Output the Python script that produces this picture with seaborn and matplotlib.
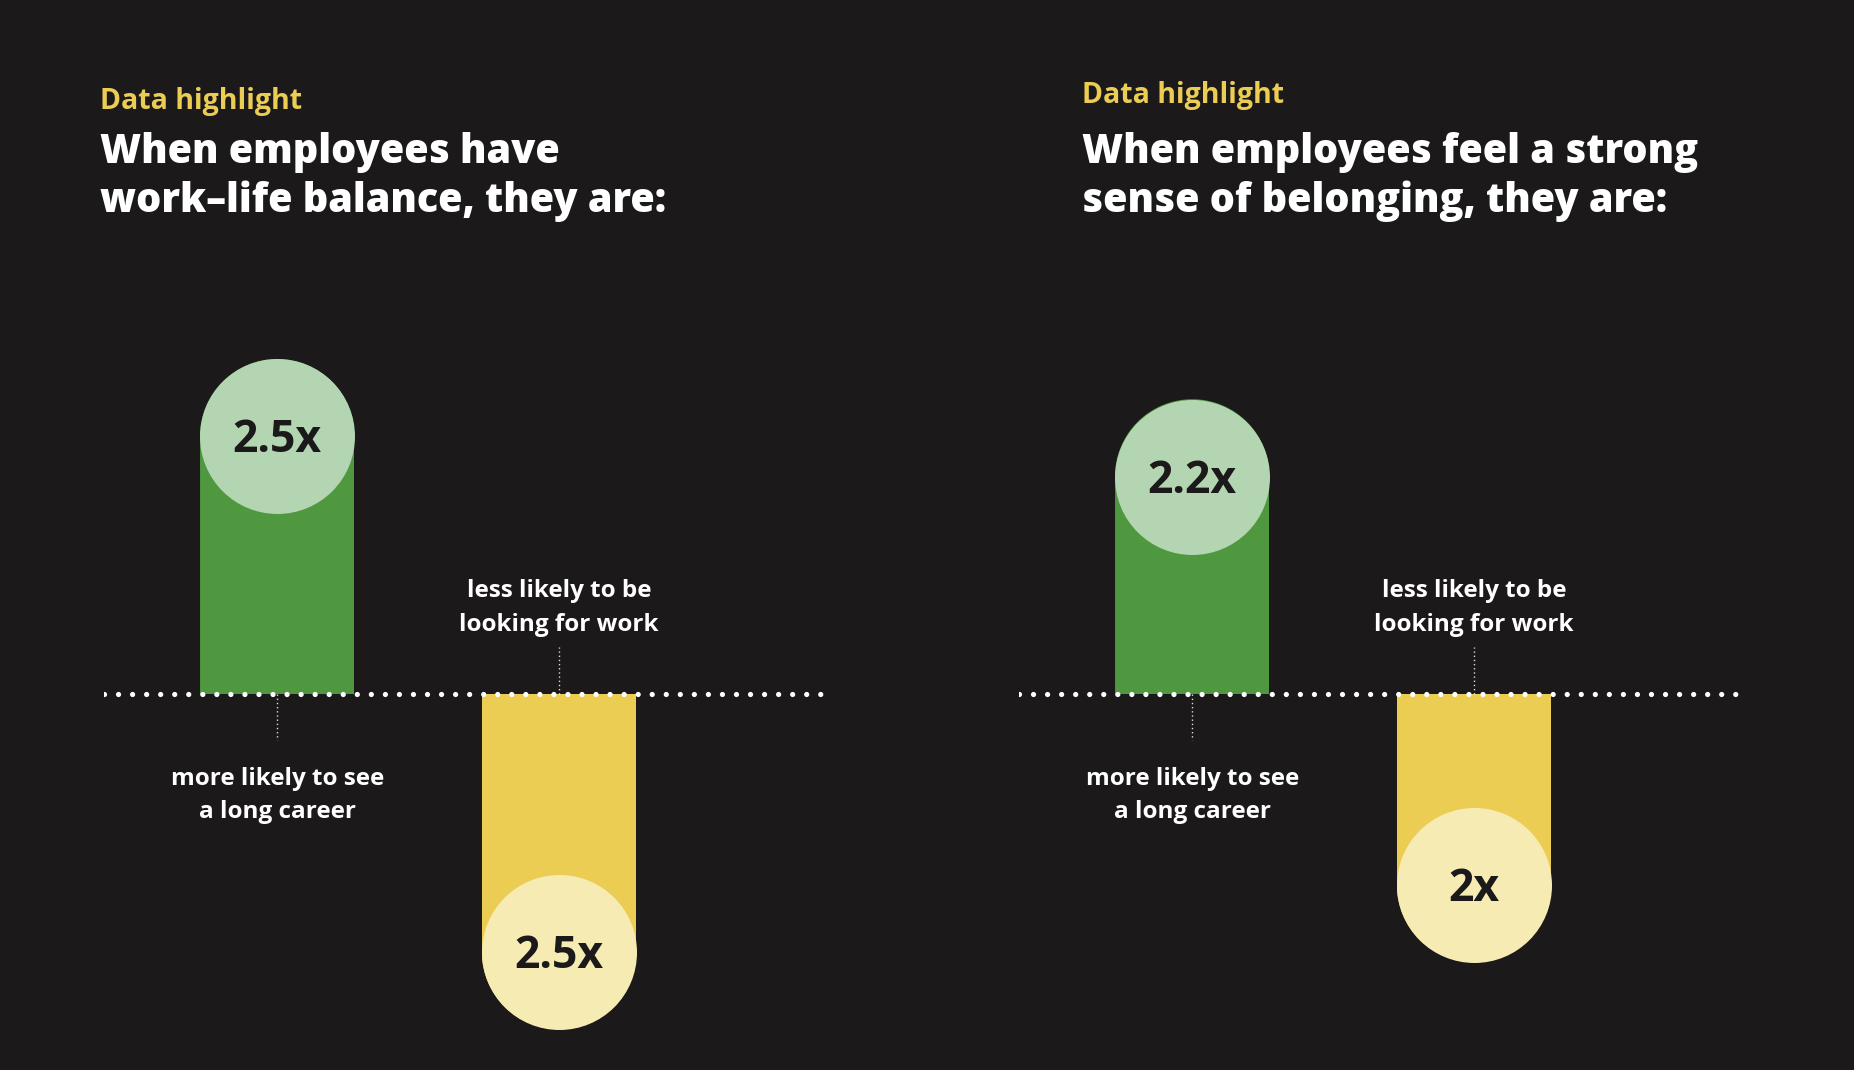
import numpy as np
import pandas as pd
import matplotlib
matplotlib.use("Agg")
import matplotlib.pyplot as plt
import seaborn as sns
from matplotlib.path import Path
from matplotlib.transforms import ScaledTranslation, IdentityTransform

# ---------------- data ----------------
kickers = ["Data highlight", "Data highlight"]
titles_left = ["When employees have", "work\u2013life balance, they are:"]
titles_right = ["When employees feel a strong", "sense of belonging, they are:"]
categories = ["more likely to see\na long career", "less likely to be\nlooking for work"]
left_values = [2.5, -2.5]
right_values = [2.2, -2.0]
left_labels = ["2.5x", "2.5x"]
right_labels = ["2.2x", "2x"]

# ---------------- style ----------------
DPI = 100
W, H = 1854, 1070
BG = "#1b191a"
BAR_COLORS = ["#4f983f", "#ebcd53"]
CAP_COLORS = ["#b3d5b1", "#f7ebb4"]
KICKER = "#ebcd53"

sns.set_theme(style="white")
plt.rcParams["font.family"] = ["Open Sans", "DejaVu Sans"]

fig = plt.figure(figsize=(W / DPI, H / DPI), dpi=DPI, facecolor=BG)

PX_PER_UNIT = 134.0
BASE_PX = 694.0
YLIM = (-2.6, 2.85)
XLIM = (-0.615, 1.955)
top_px = BASE_PX - YLIM[1] * PX_PER_UNIT
bot_px = BASE_PX - YLIM[0] * PX_PER_UNIT
R_IN = 0.775  # cap radius in inches


def fpx(x, y):
    return x / W, 1 - y / H


def draw_panel(left_px, right_px, values, labels, kicker, title, kick_y, title_x):
    ax = fig.add_axes([left_px / W, 1 - bot_px / H, (right_px - left_px) / W, (bot_px - top_px) / H])
    ax.set_facecolor(BG)
    df = pd.DataFrame({"category": categories, "value": values})
    sns.barplot(data=df, x="category", y="value", hue="category", palette=BAR_COLORS,
                saturation=1, width=0.548, legend=False, ax=ax, linewidth=0, zorder=2)
    ax.set_xlim(*XLIM)
    ax.set_ylim(*YLIM)
    ax.axis("off")

    for i, (bar, v, lab, cat) in enumerate(zip(ax.patches, values, labels, categories)):
        sign = 1 if v > 0 else -1
        x0 = bar.get_x()
        w = bar.get_width()
        xc = x0 + w / 2
        # clip bar into a rounded-end shape (single closed outline)
        dx0, dy0 = ax.transData.transform((x0, 0))
        dx1, dyv = ax.transData.transform((x0 + w, v))
        r_px = (dx1 - dx0) / 2
        cy = dyv - sign * r_px
        cx = (dx0 + dx1) / 2
        ang = np.linspace(0, sign * np.pi, 90)
        arc = np.column_stack([cx + r_px * np.cos(ang), cy + r_px * np.sin(ang)])
        verts = np.vstack([[(dx0, dy0), (dx1, dy0)], arc, [(dx0, dy0)]])
        codes = [Path.MOVETO] + [Path.LINETO] * (len(verts) - 2) + [Path.CLOSEPOLY]
        bar.set_clip_path(Path(verts, codes), IdentityTransform())

        # cap circle
        off = ScaledTranslation(0, -sign * R_IN, fig.dpi_scale_trans)
        ax.plot([xc], [v], marker="o", ms=2 * R_IN * 72, mew=0, color=CAP_COLORS[i],
                transform=ax.transData + off, zorder=3)
        toff = ScaledTranslation(0, -sign * R_IN - 0.16, fig.dpi_scale_trans)
        ax.text(xc, v, lab, transform=ax.transData + toff, ha="center", va="baseline",
                fontsize=32, fontweight="bold", color=BG, zorder=4)

        # category label + leader
        lines = cat.split("\n")
        if sign > 0:
            ax.plot([xc, xc], [0, -46 / PX_PER_UNIT], color="white", lw=1,
                    ls=(0, (1, 2)), alpha=0.85, zorder=3)
            offs = [-0.91, -1.24]
        else:
            ax.plot([xc, xc], [0, 47 / PX_PER_UNIT], color="white", lw=1,
                    ls=(0, (1, 2)), alpha=0.85, zorder=3)
            offs = [0.97, 0.63]
        for ln, o in zip(lines, offs):
            ax.text(xc, 0, ln, transform=ax.transData + ScaledTranslation(0, o, fig.dpi_scale_trans),
                    ha="center", va="baseline", fontsize=17.5, fontweight="bold", color="white")

    # dotted baseline
    ax.axhline(0, color="white", lw=3.8, ls=(0, (0.001, 2.66)), dash_capstyle="round", zorder=5)

    # headings
    fig.text(*fpx(title_x, kick_y), kicker, color=KICKER, fontsize=20.5, fontweight="bold", va="baseline")
    fig.text(*fpx(title_x, 163), title[0], color="white", fontsize=28.5, fontweight=800, va="baseline")
    fig.text(*fpx(title_x, 212), title[1], color="white", fontsize=28.5, fontweight=800, va="baseline")
    return ax


draw_panel(104, 828, left_values, left_labels, kickers[0], titles_left, 109, 100)
draw_panel(1019, 1743, right_values, right_labels, kickers[1], titles_right, 103, 1082)

fig.savefig("out.png", dpi=DPI, facecolor=BG)
